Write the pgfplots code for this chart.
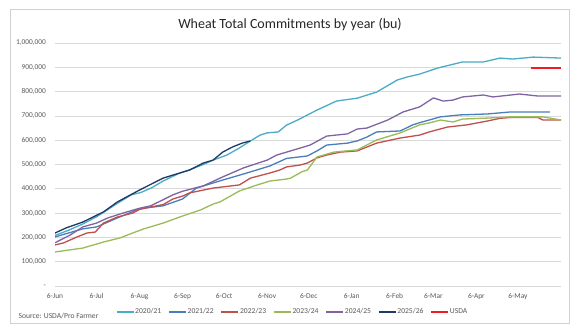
\documentclass[border=0pt]{standalone}
\usepackage{pgfplots}
\pgfplotsset{compat=1.18}
\usepackage{fontspec}
\setmainfont{Carlito}
\definecolor{cA}{HTML}{4BACC6}
\definecolor{cB}{HTML}{4A7EBB}
\definecolor{cC}{HTML}{C0504D}
\definecolor{cD}{HTML}{9BBB59}
\definecolor{cE}{HTML}{8064A2}
\definecolor{cF}{HTML}{1F3A66}
\definecolor{usdared}{HTML}{EE1C25}
\definecolor{txt}{HTML}{595959}
\begin{document}
\begin{tikzpicture}
\useasboundingbox (0pt,0pt) rectangle (581pt,332pt);
\fill[white] (0pt,0pt) rectangle (581pt,332pt);
\draw[color=black!18, line width=0.9pt] (10pt,9pt) rectangle (569pt,323pt);
\node[font=\fontsize{14}{16}\selectfont, text=black!85] at (290pt,307pt) {Wheat Total Commitments by year (bu)};
\node[anchor=west, font=\fontsize{7.6}{9}\selectfont, text=txt] at (15pt,16.3pt) {Source: USDA/Pro Farmer};
\begin{axis}[
  at={(55pt,46pt)}, anchor=south west,
  scale only axis, width=506pt, height=243pt,
  xmin=0, xmax=365, ymin=0, ymax=1000,
  axis line style={draw=none},
  major tick length=0,
  ymajorgrids, grid style={black!15, line width=0.6pt},
  ytick={0,100,200,300,400,500,600,700,800,900,1000},
  yticklabels={{-},{100,000},{200,000},{300,000},{400,000},{500,000},{600,000},{700,000},{800,000},{900,000},{1,000,000}},
  xtick={0,30,61,92,122,153,183,214,245,273,304,334},
  xticklabels={6-Jun,6-Jul,6-Aug,6-Sep,6-Oct,6-Nov,6-Dec,6-Jan,6-Feb,6-Mar,6-Apr,6-May},
  yticklabel style={font=\fontsize{7.4}{9}\selectfont, text=txt, xshift=-5.5pt},
  xticklabel style={font=\fontsize{7.4}{9}\selectfont, text=txt, yshift=-3.5pt},
  every axis plot/.append style={line width=1.3pt, line join=round, no marks},
  legend columns=-1,
  legend style={at={(0.468,-0.1058)}, anchor=center, draw=none, fill=none,
    font=\fontsize{7.6}{9}\selectfont, text=txt, nodes={inner sep=0.8pt},
    /tikz/every even column/.append style={column sep=6pt}},
  legend image code/.code={\draw[#1, line width=1.8pt] (0pt,0pt) -- (17pt,0pt);},
]
\addplot[color=cA] coordinates {
(0,208) (10,230) (20,255) (30,285) (45,340) (55,375) (62,385) (70,405) (78,432)
(90,465) (97,478) (107,500) (114,518) (124,539) (133,568) (141,597) (148,621)
(153,630) (161,634) (167,662) (175,683) (189,724) (203,761) (218,773) (232,798)
(247,848) (254,860) (263,872) (276,897) (294,922) (309,922) (321,938) (330,934)
(345,942) (365,938)};
\addlegendentry{2020/21}
\addplot[color=cB] coordinates {
(0,202) (20,235) (30,243) (45,280) (61,318) (78,330) (92,358) (102,403) (121,436)
(136,461) (155,494) (167,525) (182,535) (189,556) (196,580) (211,588) (218,597)
(225,613) (232,634) (249,638) (258,663) (263,672) (278,696) (292,704) (312,708)
(328,716) (357,716)};
\addlegendentry{2021/22}
\addplot[color=cC] coordinates {
(0,169) (6,177) (16,202) (23,218) (29,222) (35,259) (45,284) (56,300) (61,315)
(69,325) (78,335) (85,358) (92,370) (97,383) (114,403) (133,416) (141,444)
(155,465) (162,477) (167,490) (177,498) (182,506) (189,527) (196,539) (206,551)
(218,556) (232,588) (249,609) (263,621) (270,634) (283,654) (297,663) (312,679)
(321,690) (330,694) (348,694) (352,683) (365,683)};
\addlegendentry{2022/23}
\addplot[color=cD] coordinates {
(0,140) (20,156) (35,181) (47,198) (56,218) (64,235) (78,259) (90,284) (105,313)
(114,337) (119,346) (133,391) (146,416) (155,432) (167,440) (170,444) (178,470)
(182,477) (189,531) (201,551) (218,560) (232,601) (249,630) (263,663) (270,671)
(278,683) (287,675) (294,687) (312,691) (328,696) (352,696) (365,683)};
\addlegendentry{2023/24}
\addplot[color=cE] coordinates {
(0,178) (11,210) (20,243) (30,259) (38,280) (49,300) (61,320) (69,330) (78,355)
(85,375) (92,390) (107,412) (121,449) (136,486) (153,518) (160,539) (170,556)
(177,568) (184,580) (196,617) (211,626) (218,646) (225,650) (240,683) (251,716)
(263,737) (273,774) (280,761) (287,765) (294,778) (309,786) (316,778) (335,790)
(348,782) (365,782)};
\addlegendentry{2024/25}
\addplot[color=cF] coordinates {
(0,218) (8,239) (20,263) (35,305) (45,346) (61,395) (78,444) (90,465) (97,477)
(107,506) (114,518) (121,551) (128,572) (135,588) (141,597)};
\addlegendentry{2025/26}
\addplot[draw=usdared, color=usdared, line width=1.6pt] coordinates {(343,898) (350,898) (358,898) (365,898)};
\addlegendentry{USDA}
\end{axis}
\end{tikzpicture}
\end{document}
